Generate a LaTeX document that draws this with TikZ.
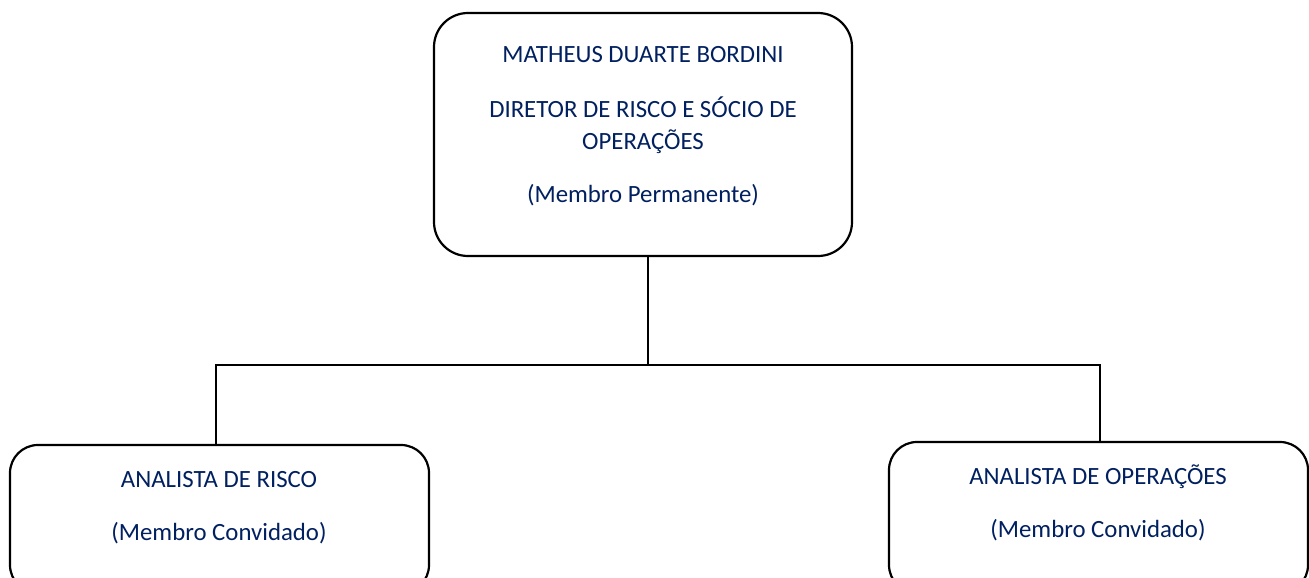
\documentclass[tikz,border=0pt]{standalone}
\usepackage{fontspec}
\setmainfont{Carlito}
\definecolor{navy}{HTML}{002060}
\begin{document}
\begin{tikzpicture}[x=1pt,y=-1pt,
  box/.style={draw=black,line width=2.2pt,rounded corners=34pt,inner sep=0pt,fill=white},
  lbl/.style={anchor=base,text=navy,font=\fontsize{24.8}{32}\selectfont,inner sep=0pt},
  conn/.style={draw=black,line width=2pt}]
\useasboundingbox (0,0) rectangle (1309,578);
\begin{scope}
\clip (0,0) rectangle (1309,578);
\node[box,minimum width=418pt,minimum height=243pt] (top) at (643,134.5) {};
\node[box,minimum width=419pt,minimum height=148pt,rounded corners=28pt] (left) at (219.5,519) {};
\node[box,minimum width=419pt,minimum height=151pt,rounded corners=28pt] (right) at (1098.5,517.5) {};
\end{scope}
\coordinate (j) at (648,365);
\coordinate (jl) at (216,365);
\coordinate (jr) at (1100,365);
\draw[conn] (top.south -| j) -- (j);
\draw[conn] (jl |- left.north) -- (jl) -- (jr) -- (jr |- right.north);
\node[lbl] (t1) at (643,63) {MATHEUS DUARTE BORDINI};
\node[lbl] (t2) at (643,117) {DIRETOR DE RISCO E SÓCIO DE};
\node[lbl] (t3) at (643,149) {OPERAÇÕES};
\node[lbl] (t4) at (643,202) {(Membro Permanente)};
\node[lbl] (l1) at (219,487) {ANALISTA DE RISCO};
\node[lbl] (l2) at (219,540) {(Membro Convidado)};
\node[lbl] (r1) at (1098,484) {ANALISTA DE OPERAÇÕES};
\node[lbl] (r2) at (1098,537) {(Membro Convidado)};
\end{tikzpicture}
\end{document}
